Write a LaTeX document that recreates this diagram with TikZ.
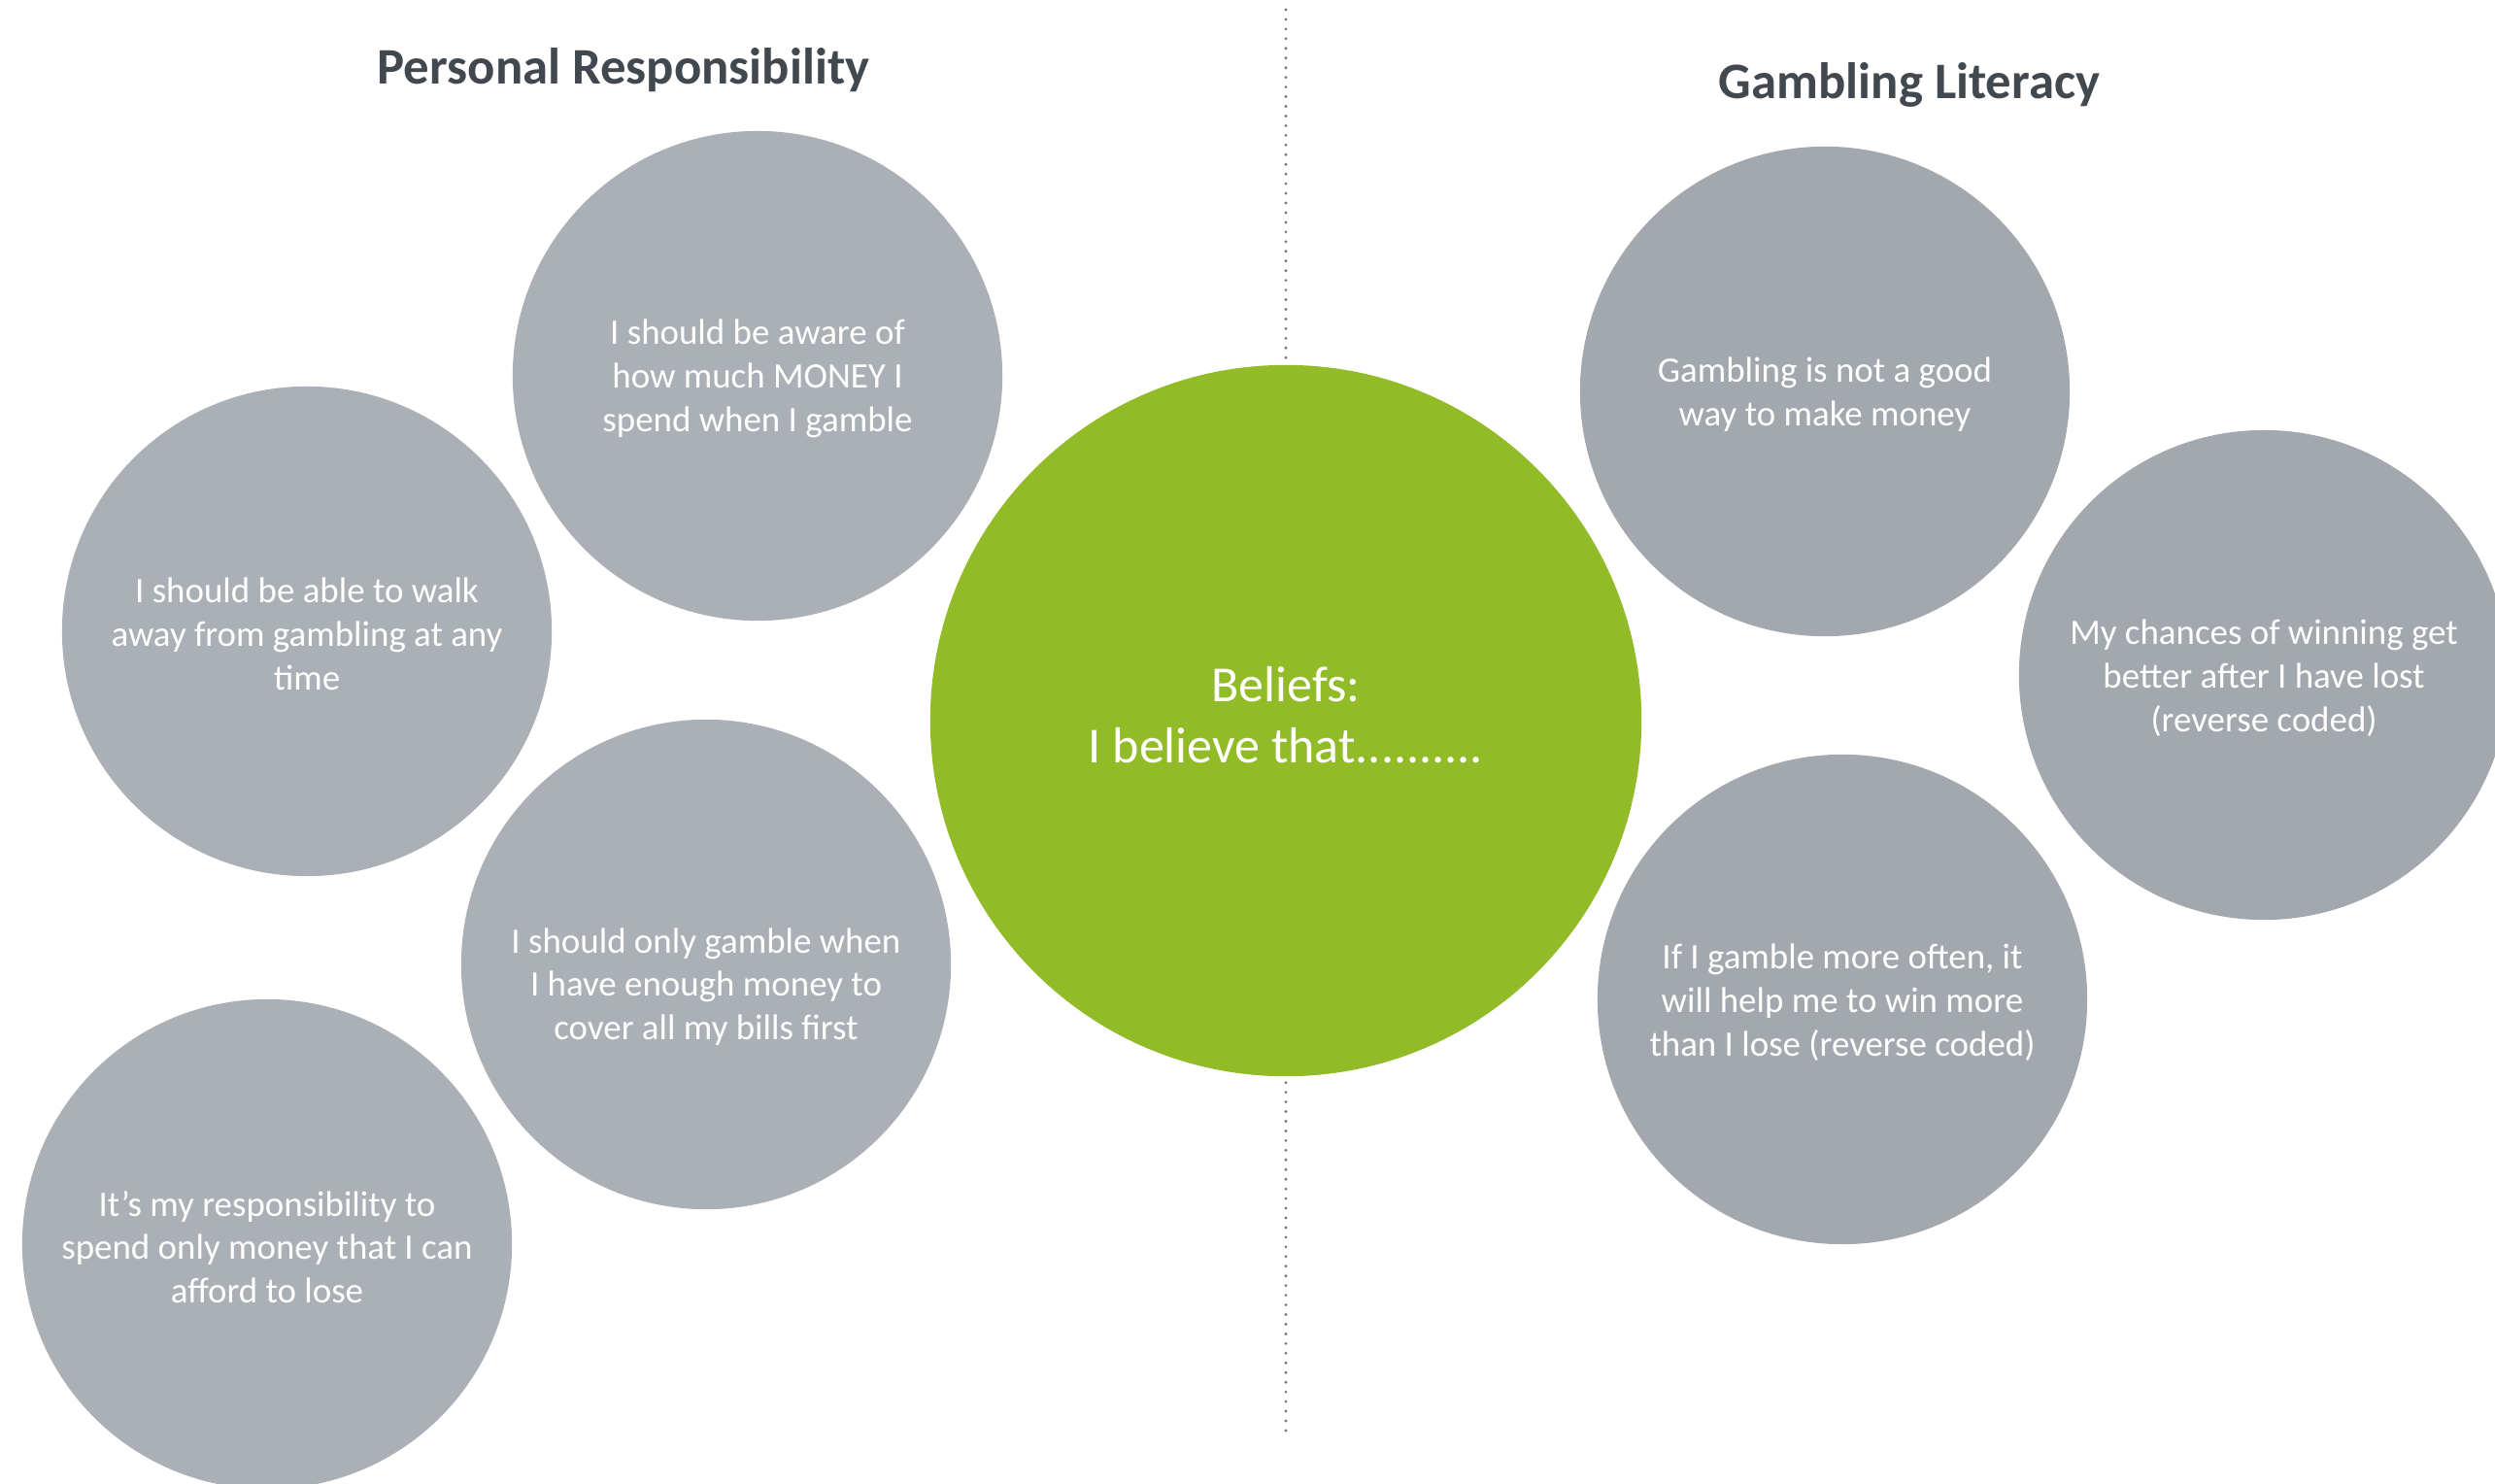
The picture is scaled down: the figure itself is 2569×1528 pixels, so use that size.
\documentclass[tikz,border=0pt]{standalone}
\usepackage{fontspec}
\setmainfont{Carlito}
\usetikzlibrary{positioning}
\definecolor{leftgray}{HTML}{AAB0B6}
\definecolor{rightgray}{HTML}{A3A8AE}
\definecolor{beliefgreen}{HTML}{92BB28}
\definecolor{titlegray}{HTML}{41484F}
\definecolor{dotgray}{HTML}{6E767E}
\tikzset{
  bubble/.style={circle,inner sep=0pt,minimum size=5.04cm},
  bubbletext/.style={text=white,align=center,yshift=-0.03cm,font=\fontsize{10.5}{12.75}\selectfont},
  heading/.style={text=titlegray,anchor=base,font=\fontsize{15}{18}\selectfont\bfseries}
}
\begin{document}
\begin{tikzpicture}[x=0.01cm,y=-0.01cm]
            \useasboundingbox (0,0) rectangle (2569,1528);
            \clip (0,0) rectangle (2569,1528);
            \coordinate (divtop) at (1324,10);
            \coordinate (divbot) at (1324,1481);
            \draw[dotgray,line width=0.9pt,line cap=round,dash pattern=on 0pt off 2.83pt] (divtop) -- (divbot);
            \node[heading] (perstitle) at (642,87) {Personal Responsibility};
            \node[heading] (littitle) at (1966,102) {Gambling Literacy};
            \node[bubble,fill=leftgray] (aware) at (780,387) {};
            \node[bubble,fill=leftgray] (walkaway) at (316,650) {};
            \node[bubble,fill=leftgray] (billsfirst) at (727,993) {};
            \node[bubble,fill=leftgray] (afford) at (275,1281) {};
            \node[bubble,fill=rightgray] (notgood) at (1879,403) {};
            \node[bubble,fill=rightgray] (chances) at (2331,695) {};
            \node[bubble,fill=rightgray] (moreoften) at (1897,1029) {};
            \node[circle,inner sep=0pt,minimum size=7.32cm,fill=beliefgreen] (beliefs) at (1324,742) {};
            \node[bubbletext] at (aware) {I should be aware of\\how much MONEY I\\spend when I gamble};
            \node[bubbletext] at (walkaway) {I should be able to walk\\away from gambling at any\\time};
            \node[bubbletext,yshift=-0.2cm] at (billsfirst) {I should only gamble when\\I have enough money to\\cover all my bills first};
            \node[bubbletext] at (afford) {It’s my responsibility to\\spend only money that I can\\afford to lose};
            \node[bubbletext] at (notgood) {Gambling is not a good\\way to make money};
            \node[bubbletext] at (chances) {My chances of winning get\\better after I have lost\\(reverse coded)};
            \node[bubbletext] at (moreoften) {If I gamble more often, it\\will help me to win more\\than I lose (reverse coded)};
            \node[text=white,align=center,font=\fontsize{14.8}{18.1}\selectfont,yshift=0.06cm] at (beliefs) {Beliefs:\\I believe that..........};
        \end{tikzpicture}
\end{document}
